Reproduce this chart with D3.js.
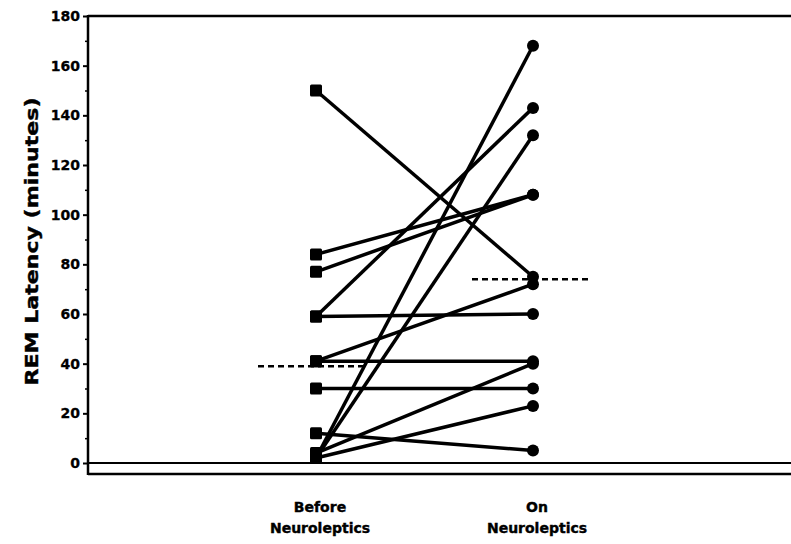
<!DOCTYPE html>
<html>
<head>
<meta charset="utf-8">
<script src="https://cdn.jsdelivr.net/npm/d3@7"></script>
<style>
  body { margin: 0; background: #fff; }
  text { font-family: "DejaVu Sans", sans-serif; font-weight: bold; fill: #000; }
</style>
</head>
<body>
<div id="chart"></div>
<script>
const width = 791;
const height = 544;

// paired REM latency values (minutes), one entry per subject
const groups = ["Before", "On"];
const before = [150, 84, 77, 59, 59, 41, 41, 30, 12, 4, 2, 2, 2];
const onDrug = [75, 108, 108, 143, 60, 72, 41, 30, 5, 40, 23, 168, 132];
const medians = [39, 74];
const yTicks = [0, 20, 40, 60, 80, 100, 120, 140, 160, 180];
const yMinor = [10, 30, 50, 70, 90, 110, 130, 150, 170];
const xLabels = [["Before", "Neuroleptics"], ["On", "Neuroleptics"]];

const svg = d3.select("#chart")
    .append("svg")
    .attr("width", width)
    .attr("height", height);

const x = d3.scalePoint()
    .domain(groups)
    .range([316, 533]);

const y = d3.scaleLinear()
    .domain([0, 180])
    .range([463, 16]);

const left = 88;
const bottom = 474;

// frame lines
svg.append("line")
    .attr("x1", left).attr("x2", width)
    .attr("y1", y(180)).attr("y2", y(180))
    .attr("stroke", "#000").attr("stroke-width", 2.5);
svg.append("line")
    .attr("x1", left).attr("x2", width)
    .attr("y1", y(0)).attr("y2", y(0))
    .attr("stroke", "#000").attr("stroke-width", 2);
svg.append("line")
    .attr("x1", left).attr("x2", width)
    .attr("y1", bottom).attr("y2", bottom)
    .attr("stroke", "#000").attr("stroke-width", 2.5);
svg.append("line")
    .attr("x1", left).attr("x2", left)
    .attr("y1", y(180) - 1).attr("y2", bottom + 1)
    .attr("stroke", "#000").attr("stroke-width", 2.5);

// y axis
const yAxis = svg.append("g")
    .attr("transform", `translate(${left},0)`)
    .call(d3.axisLeft(y).tickValues(yTicks).tickSize(5).tickPadding(3));
yAxis.select(".domain").remove();
yAxis.selectAll(".tick line").attr("stroke-width", 2);
yAxis.selectAll(".tick text")
    .attr("font-family", "DejaVu Sans")
    .attr("font-weight", "bold")
    .attr("font-size", 14)
    .attr("stroke", "#000")
    .attr("stroke-width", 0.3);

const yAxisMinor = svg.append("g")
    .attr("transform", `translate(${left},0)`)
    .call(d3.axisLeft(y).tickValues(yMinor).tickSize(3).tickFormat(""));
yAxisMinor.select(".domain").remove();
yAxisMinor.selectAll(".tick line").attr("stroke-width", 1.5);

svg.append("text")
    .attr("transform", `translate(38,${(y(180) + y(0)) / 2 + 2}) rotate(-90)`)
    .attr("text-anchor", "middle")
    .attr("font-size", 18)
    .attr("stroke", "#000")
    .attr("stroke-width", 0.4)
    .attr("textLength", 288)
    .attr("lengthAdjust", "spacingAndGlyphs")
    .text("REM Latency (minutes)");

// x labels
xLabels.forEach((lines, i) => {
    const t = svg.append("text")
        .attr("text-anchor", "middle")
        .attr("font-size", 14)
        .attr("stroke", "#000")
        .attr("stroke-width", 0.4);
    lines.forEach((s, j) => {
        t.append("tspan")
            .attr("x", x(groups[i]) + 4)
            .attr("y", 512 + j * 21)
            .text(s);
    });
});

// subject lines
const pairs = before.map((b, i) => ({ b: b, o: onDrug[i] }));

svg.selectAll(".pair")
    .data(pairs)
    .enter()
    .append("line")
    .attr("class", "pair")
    .attr("x1", x("Before"))
    .attr("y1", d => y(d.b))
    .attr("x2", x("On"))
    .attr("y2", d => y(d.o))
    .attr("stroke", "#000")
    .attr("stroke-width", 3.5);

// markers
const sq = 12;
svg.selectAll(".sq")
    .data(before)
    .enter()
    .append("rect")
    .attr("class", "sq")
    .attr("x", x("Before") - sq / 2)
    .attr("y", d => y(d) - sq / 2)
    .attr("width", sq)
    .attr("height", sq)
    .attr("rx", 1.5)
    .attr("fill", "#000");

svg.selectAll(".dot")
    .data(onDrug)
    .enter()
    .append("circle")
    .attr("class", "dot")
    .attr("cx", x("On"))
    .attr("cy", d => y(d))
    .attr("r", 6)
    .attr("fill", "#000");

// median dashes
const medSpan = [[-58, 48], [-61, 59]];
svg.selectAll(".median")
    .data(medians)
    .enter()
    .append("line")
    .attr("class", "median")
    .attr("x1", (d, i) => x(groups[i]) + medSpan[i][0])
    .attr("x2", (d, i) => x(groups[i]) + medSpan[i][1])
    .attr("y1", d => y(d))
    .attr("y2", d => y(d))
    .attr("stroke", "#000")
    .attr("stroke-width", 2.5)
    .attr("stroke-dasharray", "6,4");
</script>
</body>
</html>
